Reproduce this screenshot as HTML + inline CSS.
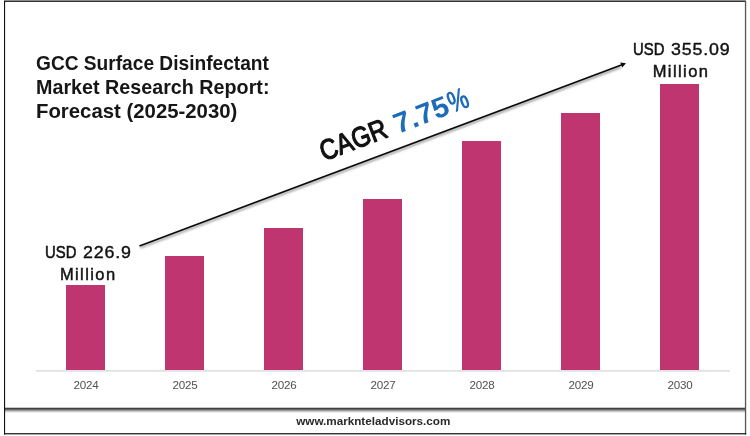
<!DOCTYPE html>
<html lang="en">
<head>
<meta charset="utf-8">
<title>GCC Surface Disinfectant Market Research Report: Forecast (2025-2030)</title>
<style>
html,body{margin:0;padding:0;background:#fff;}
body{width:750px;height:436px;position:relative;overflow:hidden;font-family:"Liberation Sans",sans-serif;color:#111;}
.sep{position:absolute;left:5px;top:407px;width:740px;height:7px;background:linear-gradient(to bottom,#fff 0,#fff 5%,#444 12%,#404040 24%,#707070 38%,#a2a2a2 52%,#d2d2d2 66%,#f0f0f0 80%,#fff 90%);}
.bar{position:absolute;width:39px;background:#be3570;}
.axis{position:absolute;left:36px;top:370px;width:694px;height:2px;background:linear-gradient(to bottom,#dedede,#ececec);}
.yr{position:absolute;top:378px;width:60px;text-align:center;font-size:11.6px;line-height:14px;color:#505050;letter-spacing:-0.25px;}
.title{position:absolute;left:35.6px;top:50.6px;font-weight:bold;font-size:20.2px;line-height:24.1px;color:#161616;white-space:nowrap;}
.title span{display:block;transform-origin:0 50%;}
.lab{position:absolute;width:140px;text-align:center;font-size:16.5px;line-height:22px;color:#111;white-space:nowrap;-webkit-text-stroke:0.45px #111;}
.lab .u{-webkit-text-stroke-width:0.55px;display:inline-block;transform:scaleX(0.9);transform-origin:0 50%;margin-right:-3.5px;}
.lab .n{-webkit-text-stroke-width:0.38px;display:inline-block;transform:scaleX(1.08);transform-origin:0 50%;letter-spacing:0.75px;margin-left:2.4px;margin-right:3.6px;}
.lab .m{letter-spacing:1.4px;}
.foot{position:absolute;left:0;top:410px;width:746.6px;text-align:center;font-weight:bold;font-size:11.7px;line-height:22px;color:#2a2a2a;}
svg{position:absolute;left:0;top:0;}
</style>
</head>
<body>
<div class="sep"></div>

<div class="title"><span style="transform:scaleX(0.948)">GCC Surface Disinfectant</span><span style="transform:scaleX(0.977)">Market Research Report:</span><span style="transform:scaleX(1.008)">Forecast (2025-2030)</span></div>

<div class="bar" style="left:66px;top:285px;height:85px"></div>
<div class="bar" style="left:165px;top:256px;height:114px"></div>
<div class="bar" style="left:264px;top:228px;height:142px"></div>
<div class="bar" style="left:363px;top:199px;height:171px"></div>
<div class="bar" style="left:462px;top:141px;height:229px"></div>
<div class="bar" style="left:561px;top:113px;height:257px"></div>
<div class="bar" style="left:660px;top:84px;height:286px"></div>
<div class="axis"></div>

<div class="yr" style="left:56px">2024</div>
<div class="yr" style="left:155px">2025</div>
<div class="yr" style="left:254px">2026</div>
<div class="yr" style="left:353px">2027</div>
<div class="yr" style="left:452px">2028</div>
<div class="yr" style="left:551px">2029</div>
<div class="yr" style="left:650px">2030</div>

<div class="lab" style="left:18.2px;top:241px"><span class="u">USD</span> <span class="n">226.9</span><br><span class="m">Million</span></div>
<div class="lab" style="left:611px;top:38px"><span class="u">USD</span> <span class="n">355.09</span><br><span class="m">Million</span></div>

<svg width="750" height="436" viewBox="0 0 750 436">
  <rect x="4" y="0" width="742" height="1" fill="#8a8a8a"/>
  <rect x="4" y="1" width="742" height="1" fill="#333"/>
  <rect x="4" y="1" width="1.1" height="433.5" fill="#111"/>
  <rect x="744.9" y="1" width="1.3" height="433.5" fill="#555"/>
  <rect x="4" y="433.15" width="742.2" height="1.2" fill="#111"/>
  <defs><filter id="sh" x="-5%" y="-5%" width="110%" height="110%"><feGaussianBlur stdDeviation="0.8"/></filter></defs>
  <line x1="140.3" y1="247.6" x2="621" y2="67" stroke="#000" stroke-opacity="0.4" stroke-width="2" filter="url(#sh)"/>
  <line x1="139.5" y1="246" x2="622" y2="64.7" stroke="#0a0a0a" stroke-width="1.6"/>
  <polygon points="626,63.2 620.2,62.5 622.2,67.6" fill="#0a0a0a"/>
  <text id="cg1" transform="translate(324,161.3) rotate(-20.8) scale(0.85,1)" font-family="'Liberation Sans', sans-serif" font-size="28.5" fill="#111" stroke="#111" stroke-width="1.2" stroke-linejoin="round">CAGR</text>
  <text id="cg2" transform="translate(398,134.1) rotate(-21) scale(1.03,1)" font-family="'Liberation Sans', sans-serif" font-size="28.5" font-weight="bold" fill="#1c6cb8">7.75</text>
  <text id="cg3" transform="translate(452.3,113.4) rotate(-21) scale(0.8,1.08)" font-family="'Liberation Sans', sans-serif" font-size="28.5" font-weight="bold" fill="#1c6cb8">%</text>
</svg>


<div class="foot">www.marknteladvisors.com</div>
</body>
</html>
